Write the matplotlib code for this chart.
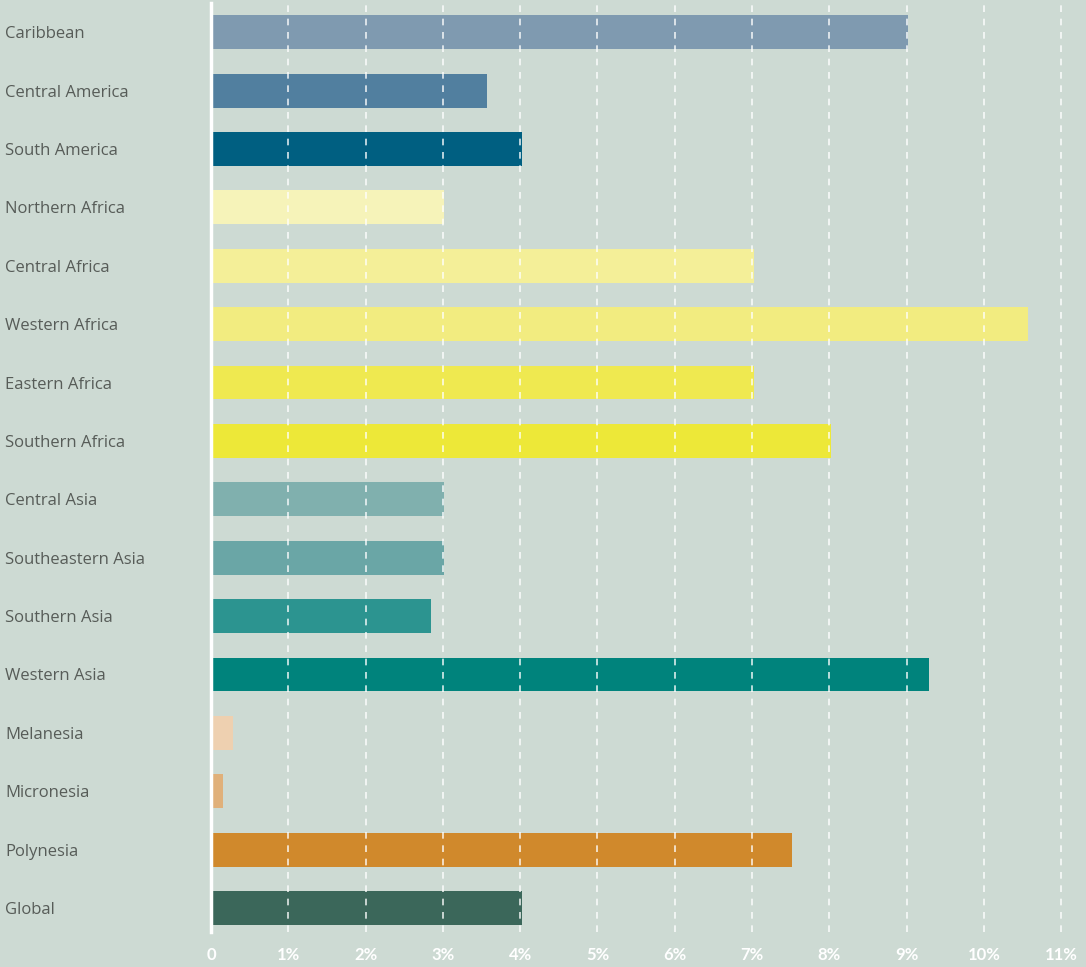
import matplotlib
matplotlib.use("Agg")
import matplotlib.pyplot as plt

# Regions, top to bottom, with their share (%) and bar colour
regions = ["Caribbean", "Central America", "South America", "Northern Africa",
           "Central Africa", "Western Africa", "Eastern Africa", "Southern Africa",
           "Central Asia", "Southeastern Asia", "Southern Asia", "Western Asia",
           "Melanesia", "Micronesia", "Polynesia", "Global"]
values = [9.0, 3.55, 4.0, 3.0,
          7.0, 10.55, 7.0, 8.0,
          3.0, 3.0, 2.83, 9.27,
          0.27, 0.14, 7.5, 4.0]
colors = ["#7f9ab0", "#517f9f", "#005f81", "#f6f3b9",
          "#f4ef98", "#f2ec80", "#efe950", "#ede838",
          "#80b0ae", "#6aa6a6", "#2c9490", "#00837c",
          "#eed0b0", "#e0b07a", "#d0892c", "#3b675a"]
tick_values = list(range(12))
tick_labels = ["0"] + [f"{t}%" for t in range(1, 12)]

bg = "#cddad3"

fig = plt.figure(figsize=(10.86, 9.67), dpi=100)
fig.patch.set_facecolor(bg)
ax = fig.add_axes([0.1943, 0.0362, 0.8057, 0.9607])
ax.set_facecolor(bg)

y = list(range(len(regions)))
ax.barh(y, values, height=0.58, color=colors, left=0.02, zorder=2)

ax.set_xlim(0, 11.32)
ax.set_ylim(15.41, -0.5)

# dashed white gridlines drawn over the bars
for t in tick_values[1:]:
    ax.axvline(t, color="white", alpha=0.85, lw=1.2, ls=(0, (4, 4)), zorder=3)

for s in ["top", "right", "bottom"]:
    ax.spines[s].set_visible(False)
ax.spines["left"].set_color("white")
ax.spines["left"].set_linewidth(2.5)
ax.spines["left"].set_zorder(4)

ax.set_xticks(tick_values)
ax.set_xticklabels(tick_labels, color="white", fontsize=12, fontweight="bold",
                   family="Lato")
ax.tick_params(axis="x", length=0, pad=11)

ax.set_yticks(y)
ax.set_yticklabels(regions, color="#575c58", fontsize=12, family="Open Sans", ha="left")
ax.tick_params(axis="y", length=0, pad=148)

fig.savefig("out.png", dpi=100, facecolor=bg)
